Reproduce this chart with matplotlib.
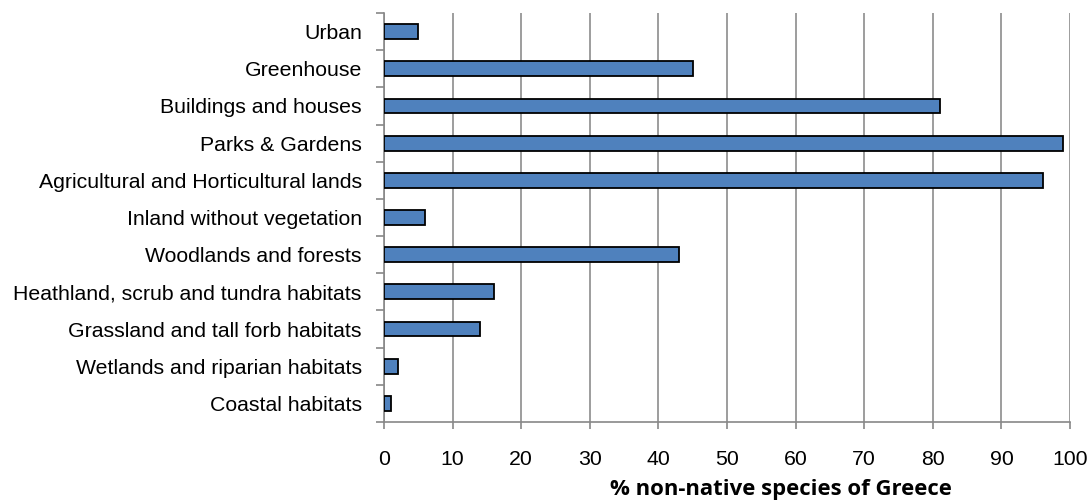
import matplotlib
matplotlib.use("Agg")
import matplotlib.pyplot as plt
import numpy as np

categories = ["Urban", "Greenhouse", "Buildings and houses", "Parks & Gardens",
              "Agricultural and Horticultural lands", "Inland without vegetation",
              "Woodlands and forests", "Heathland, scrub and tundra habitats",
              "Grassland and tall forb habitats", "Wetlands and riparian habitats",
              "Coastal habitats"]
values = [5, 45, 81, 99, 96, 6, 43, 16, 14, 2, 1]
xticks = [0, 10, 20, 30, 40, 50, 60, 70, 80, 90, 100]
xlabel = "% non-native species of Greece"

plt.rcParams['font.family'] = ['Liberation Sans', 'DejaVu Sans']

W, H = 1090, 501
fig = plt.figure(figsize=(W/100, H/100), dpi=100)
ax = fig.add_axes([384/W, 1-422/H, (1070-384)/W, (422-13)/H])

n = len(categories)
ypos = np.arange(n)[::-1]
ax.barh(ypos, values, height=0.4, color="#4F81BD", edgecolor="black", linewidth=1.3, zorder=3)

ax.set_xlim(0, 100)
ax.set_ylim(-0.5, n - 0.5)
ax.set_xticks(xticks)
ax.set_xticklabels([str(t) for t in xticks], fontsize=15.3)
ax.tick_params(axis='x', length=5, width=1.2, color="#888888", pad=15)

ax.set_yticks(np.arange(-0.5, n, 1.0))
ax.set_yticklabels([])
ax.tick_params(axis='y', which='major', length=6, width=1.2, color="#888888")
ax.set_yticks(ypos, minor=True)
ax.set_yticklabels(categories, minor=True, fontsize=15.3)
ax.tick_params(axis='y', which='minor', length=0, pad=16)

ax.grid(axis='x', color="#8c8c8c", linewidth=1.2, zorder=0)
for s in ['top', 'right']:
    ax.spines[s].set_visible(False)
for s in ['left', 'bottom']:
    ax.spines[s].set_color("#888888")
    ax.spines[s].set_linewidth(1.2)

lbl = ax.set_xlabel(xlabel, fontsize=15.9, fontweight='bold', family=['Open Sans', 'DejaVu Sans'])
lbl.set_va('center')
ax.xaxis.set_label_coords((781-384)/(1070-384), (422-489)/(422-13))

fig.savefig("out.png", dpi=100)
